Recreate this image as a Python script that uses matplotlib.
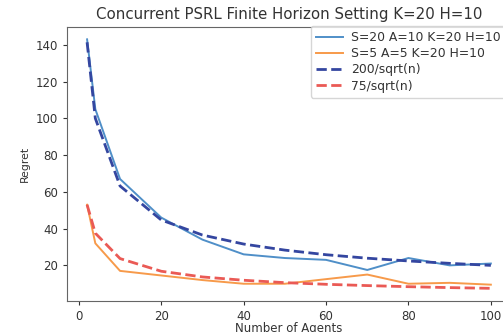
import numpy as np
import matplotlib
matplotlib.use('Agg')
from matplotlib import pyplot as plt

# number of agents
agents = [2, 4, 10, 20, 30, 40, 50, 60, 70, 80, 90, 100]

# regret
regret_s20 = [143, 105, 67, 46, 34, 26, 24, 23, 17.5, 24, 20, 21]
regret_s5 = [53, 32, 17, 14.5, 12, 10, 10, 12.5, 15, 10, 10.5, 9.5]

# reference curves
bound_200 = [141.4, 100.0, 63.2, 44.7, 36.5, 31.6, 28.3, 25.8, 23.9, 22.4, 21.1, 20.0]
bound_75 = [53.0, 37.5, 23.7, 16.8, 13.7, 11.9, 10.6, 9.7, 9.0, 8.4, 7.9, 7.5]

fig = plt.figure(figsize=(5.03, 3.32), dpi=100)
ax = fig.add_axes([0.133, 0.094, 0.883, 0.825])

ax.plot(agents, regret_s20, color='#4f8fc8', lw=1.4, label='S=20 A=10 K=20 H=10')
ax.plot(agents, regret_s5, color='#f79a4a', lw=1.4, label='S=5 A=5 K=20 H=10')
ax.plot(agents, bound_200, '--', color='#3446a0', lw=2, label='200/sqrt(n)')
ax.plot(agents, bound_75, '--', color='#ea5a55', lw=2, label='75/sqrt(n)')

ax.set_title('Concurrent PSRL Finite Horizon Setting K=20 H=10', fontsize=10.8, color='#333333')
ax.set_xlabel('Number of Agents', fontsize=8.5, color='#333333', labelpad=-0.5)
ax.set_ylabel('Regret', fontsize=7.8, color='#333333')
ax.set_yticks([20, 40, 60, 80, 100, 120, 140])
ax.set_xticks([0, 20, 40, 60, 80, 100])
ax.tick_params(labelsize=8.5, colors='#333333', length=3)
for s in ax.spines.values():
    s.set_color('#666666')

ax.legend(loc='upper right', bbox_to_anchor=(506 / 503, 1 - 26 / 332),
          bbox_transform=fig.transFigure, fontsize=8.9, handlelength=2.2,
          borderaxespad=0, labelspacing=0.26, handletextpad=0.7,
          labelcolor='#333333')

fig.savefig('out.png', dpi=100)
